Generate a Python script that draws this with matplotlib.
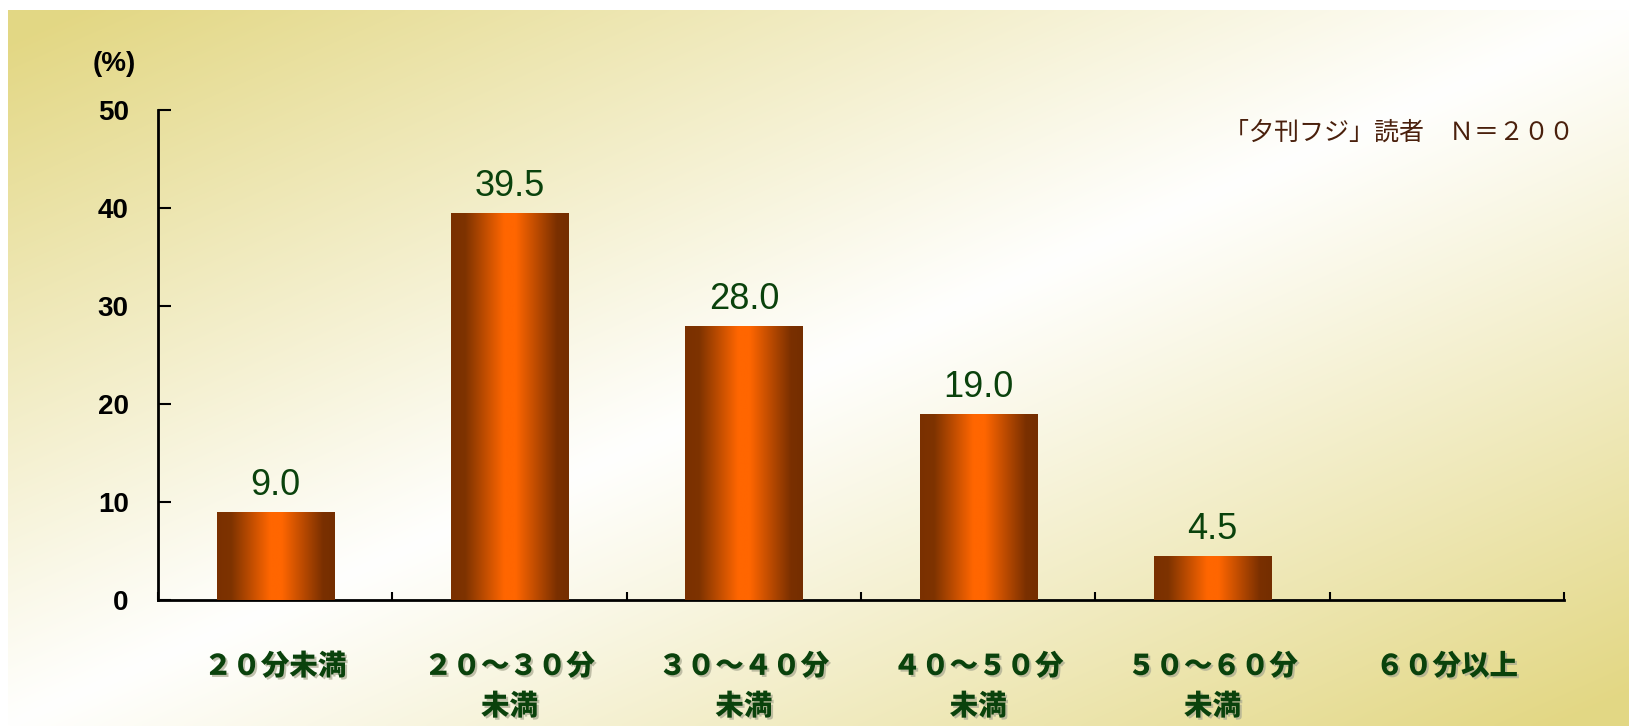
import matplotlib
matplotlib.use('Agg')
import matplotlib.pyplot as plt
import matplotlib.patheffects as pe
import numpy as np
from matplotlib.colors import LinearSegmentedColormap

categories = ['２０分未満', '２０～３０分\n未満', '３０～４０分\n未満',
              '４０～５０分\n未満', '５０～６０分\n未満', '６０分以上']
shares = [9.0, 39.5, 28.0, 19.0, 4.5, 0.0]
yticks = [0, 10, 20, 30, 40, 50]
note = '「夕刊フジ」読者　Ｎ＝２００'

plt.rcParams['font.family'] = ['Liberation Sans', 'Noto Sans CJK JP']
cjk = ['Noto Sans CJK JP', 'DejaVu Sans']
green = '#0a420c'

fig = plt.figure(figsize=(16.29, 7.26), dpi=100)
FW, FH = 1629, 726

# khaki diagonal background, white band across the middle
bg = fig.add_axes([8 / FW, 0, 1 - 8 / FW, 1 - 10 / FH])
xx, yy = np.meshgrid(np.linspace(0, 1, 500), np.linspace(0, 1, 250))
t = (xx + yy) / 2
mix = np.clip(np.abs(t - 0.5) * 2.1, 0, 1) ** 1.05
khaki = np.array([0.89, 0.845, 0.52])
white = np.array([1.0, 1.0, 0.995])
img = white[None, None, :] * (1 - mix[..., None]) + khaki[None, None, :] * mix[..., None]
bg.imshow(img, aspect='auto', interpolation='bilinear')
bg.set_axis_off()

ax = fig.add_axes([158 / FW, 126 / FH, (1564 - 158) / FW, 490 / FH])
ax.patch.set_alpha(0)

x = np.arange(len(categories))
bars = ax.bar(x, shares, width=0.5, color='#c04a00', zorder=2)

# cylinder-like shading on each bar
barmap = LinearSegmentedColormap.from_list(
    'bar', [(0, '#7a3000'), (0.12, '#7e3300'), (0.45, '#ff6600'), (0.55, '#ff6600'),
            (0.9, '#7a3000'), (1, '#742e00')])
grad = np.linspace(0, 1, 256)[None, :]
for b in bars:
    if b.get_height() <= 0:
        continue
    im = ax.imshow(grad, cmap=barmap, aspect='auto', zorder=3,
                   extent=[b.get_x(), b.get_x() + b.get_width(), 0, b.get_height()])
    im.set_clip_path(b)

for xi, v in zip(x, shares):
    if v > 0:
        ax.annotate(f'{v:.1f}', (xi, v), xytext=(0, 12), textcoords='offset points',
                    ha='center', va='baseline', fontsize=26, color=green)

ax.set_xlim(-0.5, len(categories) - 0.5)
ax.set_ylim(0, 50)
for s in ['top', 'right']:
    ax.spines[s].set_visible(False)
for s in ['left', 'bottom']:
    ax.spines[s].set_linewidth(2)

ax.set_yticks(yticks)
ax.set_yticklabels([str(v) for v in yticks], fontsize=20, fontweight='bold')
ax.tick_params(axis='y', direction='in', length=9, width=1.5, pad=21)

ax.set_xticks(x)
ax.set_xticklabels(categories, family=cjk, fontsize=20.5, fontweight='heavy',
                   color=green, linespacing=1.45)
ax.set_xticks(np.arange(len(categories) + 1) - 0.5, minor=True)
ax.tick_params(axis='x', which='major', length=0, pad=37)
ax.tick_params(axis='x', which='minor', direction='in', length=6, width=1.5)
for lab in ax.get_xticklabels():
    lab.set_path_effects([pe.SimplePatchShadow(offset=(1.5, -1.5), shadow_rgbFace='#a8a890', alpha=0.7),
                          pe.Normal()])

fig.text(114 / FW, 1 - 64 / FH, '(%)', ha='center', va='center', fontsize=20, fontweight='bold')
fig.text(1574 / FW, 1 - 133 / FH, note, ha='right', va='center', fontsize=18,
         color='#4a200c', family=cjk)

fig.savefig('out.png', dpi=100, facecolor='white')
